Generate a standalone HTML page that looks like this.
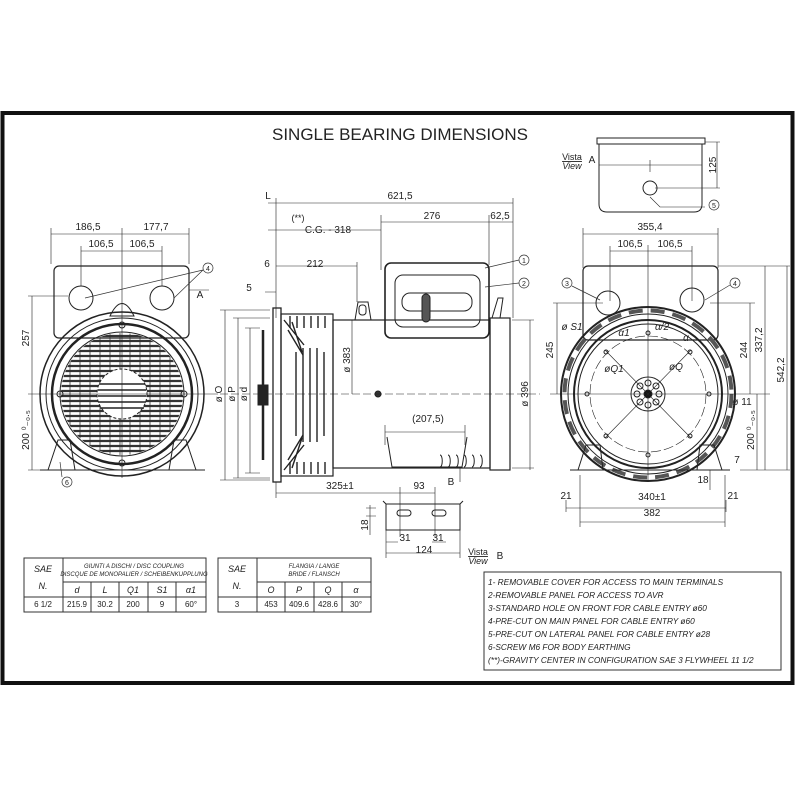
<!DOCTYPE html>
<html><head><meta charset="utf-8"><style>
html,body{margin:0;padding:0;background:#fff;}
svg{display:block;}
text{font-family:"Liberation Sans",sans-serif;fill:#222;}
.d{font-size:10px;}
.i{font-style:italic;}
</style></head><body>
<svg width="800" height="800" viewBox="0 0 800 800" xmlns="http://www.w3.org/2000/svg">
<defs>
<clipPath id="g"><circle cx="122" cy="394" r="61"/></clipPath>
</defs>
<rect x="2.5" y="113" width="790" height="570" fill="none" stroke="#111" stroke-width="4"/>
<text x="400" y="140" font-size="17" text-anchor="middle">SINGLE BEARING DIMENSIONS</text>

<g stroke="#222" fill="none" stroke-width="1">
<!-- LEFT FRONT VIEW -->
<rect x="54" y="266" width="135" height="72" rx="5" stroke-width="1.2"/>
<circle cx="81" cy="298" r="12"/><circle cx="162" cy="298" r="12"/>
<path d="M110,316 q12,-25 24,0 z"/>
<circle cx="122" cy="394" r="82" stroke-width="1.5"/>
<circle cx="122" cy="394" r="76"/>
<circle cx="122" cy="394" r="70" stroke-width="2.5"/>
<circle cx="122" cy="394" r="62"/>
<g clip-path="url(#g)" stroke="#333" stroke-width="2.2">
<path d="M50,336h150M50,341h150M50,346h150M50,351h150M50,356h150M50,361h150M50,366h150M50,371h150M50,376h150M50,381h150M50,386h150M50,391h150M50,396h150M50,401h150M50,406h150M50,411h150M50,416h150M50,421h150M50,426h150M50,431h150M50,436h150M50,441h150M50,446h150M50,451h150"/>
<path d="M70,330v130M80,330v130M90,330v130M100,330v130M110,330v130M120,330v130M130,330v130M140,330v130M150,330v130M160,330v130M170,330v130" stroke-width=".8"/>
</g>
<circle cx="122" cy="394" r="25" fill="#fff" stroke-dasharray="3,2"/>
<path d="M99,384h46M98,390h48M98,396h48M98,402h48M100,408h44" stroke-width="1.5"/>
<circle cx="60" cy="394" r="3"/><circle cx="184" cy="394" r="3"/><circle cx="122" cy="325" r="3"/><circle cx="122" cy="463" r="3"/>
<path d="M48,470 l10,-30 h12 l5,30 z M196,470 l-10,-30 h-12 l-5,30 z"/>
<path d="M40,470h165"/>
<path d="M51,234h138M81,251h81M122,228v250M51,228v36M189,228v36M81,246v40M162,246v40" stroke-width=".6"/>
<path d="M32,296v174M28,296h40M28,470h20M28,394h190" stroke-width=".6"/>
<path d="M189,290h20" stroke-width=".6"/>

<!-- SIDE VIEW -->
<path d="M268,203h245M276,198v120M513,198v120M268,230h113M381,215v55M381,222h132M489,215v50M276,266h81M357,262v40M265,292h11" stroke-width=".6"/>
<rect x="273" y="308" width="8" height="174" stroke-width="1.3"/>
<rect x="281" y="314" width="52" height="162" stroke-width="1.2"/>
<rect x="333" y="320" width="157" height="148" stroke-width="1.2"/>
<rect x="490" y="318" width="20" height="152" stroke-width="1.2"/>
<rect x="385" y="263" width="104" height="75" rx="6" stroke-width="1.6"/>
<rect x="395" y="275" width="85" height="52" rx="8"/>
<rect x="402" y="293" width="70" height="18" rx="8"/>
<rect x="422" y="294" width="8" height="28" rx="4" fill="#555"/>
<path d="M355,320 l3,-18 h10 l3,18"/>
<rect x="359" y="305" width="7" height="10" rx="3"/>
<path d="M492,318 l6,-20 h5 l-3,20"/>
<g stroke-width="1.4">
<path d="M290,316v12M297,316v12M304,316v12M311,316v12M318,316v12M325,316v12M290,462v12M297,462v12M304,462v12M311,462v12M318,462v12M325,462v12"/>
<path d="M296,352v84M303,348v94M310,348v94M317,348v94M324,352v84"/>
<path d="M284,320 l20,25M284,470 l20,-25M288,330 l15,25M288,460 l15,-25M292,322 l10,30M292,468 l10,-30"/>
</g>
<rect x="258" y="385" width="10" height="20" fill="#222"/>
<path d="M263,330v130" stroke-width="2.5"/>
<circle cx="378" cy="394" r="3" fill="#333"/>
<path d="M220,394h320" stroke-dasharray="8,3" stroke-width=".6"/>
<path d="M225,310v170M238,318v160M250,328v145M220,310h50M233,318h37M245,328h15M220,480h50M233,478h37M245,473h15" stroke-width=".6"/>
<path d="M352,320v74M530,320v150M512,320h22M512,468h22" stroke-width=".6"/>
<path d="M385,432h80M385,425v20M465,425v20" stroke-width=".6"/>
<path d="M387,437 l5,30 h70 l5,-30"/>
<path d="M440,455c3,0 3,12 0,12M448,455c3,0 3,12 0,12M456,455c3,0 3,12 0,12M464,455c3,0 3,12 0,12M472,455c3,0 3,12 0,12M480,455c3,0 3,12 0,12"/>
<path d="M276,493h124M400,487v50M435,487v50M400,493h35M276,482v16M460,468v14" stroke-width=".6"/>
<path d="M386,504h74v26h-74z M386,504 l-3,-3 M460,504 l3,-3"/>
<rect x="397" y="510" width="14" height="6" rx="3"/><rect x="432" y="510" width="14" height="6" rx="3"/>
<path d="M370,505v30M366,508h10M366,516h10M386,542h12M432,542h14M386,530v28M460,530v28M386,553h74" stroke-width=".6"/>

<!-- VIEW A -->
<rect x="597" y="138" width="108" height="6"/>
<path d="M599,144v60q0,8 8,8h87q8,0 8,-8v-60"/>
<path d="M599,165h103M650,160v12M705,142h15M705,188h15M717,142v46M655,188h55M650,197l10,10h45" stroke-width=".6"/>
<circle cx="650" cy="188" r="7"/>

<!-- RIGHT VIEW -->
<rect x="583" y="266" width="135" height="74" rx="5" stroke-width="1.2"/>
<circle cx="608" cy="303" r="12"/><circle cx="692" cy="300" r="12"/>
<circle cx="648" cy="394" r="87" stroke-width="2"/>
<circle cx="648" cy="394" r="80"/>
<circle cx="648" cy="394" r="83.5" stroke-width="4" stroke-dasharray="14,8" stroke="#555"/>
<circle cx="648" cy="394" r="74" stroke-width="2"/>
<circle cx="648" cy="394" r="70"/>
<circle cx="648" cy="394" r="58" stroke-dasharray="10,3" stroke-width=".6"/>
<circle cx="648" cy="394" r="17"/>
<circle cx="648" cy="394" r="4" fill="#111"/>
<circle cx="648" cy="383" r="3"/><circle cx="648" cy="405" r="3"/><circle cx="637" cy="394" r="3"/><circle cx="659" cy="394" r="3"/>
<circle cx="640" cy="386" r="3"/><circle cx="656" cy="386" r="3"/><circle cx="640" cy="402" r="3"/><circle cx="656" cy="402" r="3"/>
<circle cx="587" cy="394" r="2"/><circle cx="709" cy="394" r="2"/><circle cx="648" cy="333" r="2"/><circle cx="648" cy="455" r="2"/>
<circle cx="606" cy="352" r="2"/><circle cx="690" cy="352" r="2"/><circle cx="606" cy="436" r="2"/><circle cx="690" cy="436" r="2"/>
<path d="M578,470 l8,-25 h14 l3,25z M722,470 l-8,-25 h-14 l-3,25z M570,470h160"/>
<path d="M550,394h220M648,245v235M605,350 l86,88M691,350 l-86,88" stroke-width=".6"/>
<path d="M583,234h135M583,228v40M718,228v40M610,251h82M610,246v55M692,246v55" stroke-width=".6"/>
<path d="M557,303v91M553,303h50M750,303v91M710,303h45M765,266v204M787,266v204M718,266h72M740,470h50M757,394v76" stroke-width=".6"/>
<path d="M566,508h160M580,522h145M580,475v52M725,475v52M566,500v12M726,500v12M710,470v20" stroke-width=".6"/>
</g>

<g fill="none" stroke="#333" stroke-width=".7">
<circle cx="208" cy="268" r="5"/><circle cx="67" cy="482" r="5"/><circle cx="524" cy="260" r="5"/><circle cx="524" cy="283" r="5"/>
<circle cx="714" cy="205" r="5"/><circle cx="567" cy="283" r="5"/><circle cx="735" cy="283" r="5"/>
<path d="M203,270 L85,298M203,270 L174,298M62,477 L60,462M519,260 L485,268M519,283 L485,287M572,286 L600,300M730,285 L705,300"/>
</g>
<g font-size="7" text-anchor="middle">
<text x="208" y="271">4</text><text x="67" y="485">6</text><text x="524" y="263">1</text><text x="524" y="286">2</text>
<text x="714" y="208">5</text><text x="567" y="286">3</text><text x="735" y="286">4</text>
</g>

<g class="d" text-anchor="middle">
<text x="88" y="230">186,5</text><text x="156" y="230">177,7</text>
<text x="101" y="247">106,5</text><text x="142" y="247">106,5</text>
<text x="200" y="298">A</text>
<text transform="translate(29,338) rotate(-90)">257</text>
<text transform="translate(29,430) rotate(-90)">200 ⁰₋₀.₅</text>
<text x="268" y="199">L</text><text x="400" y="199">621,5</text>
<text x="298" y="221" font-size="9">(**)</text><text x="328" y="233">C.G. -  318</text>
<text x="432" y="219">276</text><text x="500" y="219">62,5</text>
<text x="267" y="267">6</text><text x="315" y="267">212</text><text x="249" y="291">5</text>
<text transform="translate(222,394) rotate(-90)">ø O</text>
<text transform="translate(235,394) rotate(-90)">ø P</text>
<text transform="translate(247,394) rotate(-90)">ø d</text>
<text transform="translate(350,360) rotate(-90)">ø 383</text>
<text transform="translate(528,394) rotate(-90)">ø 396</text>
<text x="428" y="422">(207,5)</text>
<text x="340" y="489">325±1</text><text x="419" y="489">93</text><text x="451" y="485">B</text>
<text transform="translate(368,525) rotate(-90)">18</text>
<text x="405" y="541">31</text><text x="438" y="541">31</text><text x="424" y="553">124</text>
<text x="478" y="555" font-size="9" text-decoration="underline">Vista</text><text x="478" y="564" font-size="9" class="i">View</text><text x="500" y="559">B</text>
<text x="572" y="160" font-size="9" text-decoration="underline">Vista</text><text x="572" y="169" font-size="9" class="i">View</text><text x="592" y="163">A</text>
<text transform="translate(716,165) rotate(-90)">125</text>
<text x="650" y="230">355,4</text><text x="630" y="247">106,5</text><text x="670" y="247">106,5</text>
<text transform="translate(553,350) rotate(-90)">245</text>
<text transform="translate(747,350) rotate(-90)">244</text>
<text transform="translate(762,340) rotate(-90)">337,2</text>
<text transform="translate(784,370) rotate(-90)">542,2</text>
<text transform="translate(754,430) rotate(-90)">200 ⁰₋₀.₅</text>
<text x="572" y="330" class="i">ø S1</text><text x="624" y="336" class="i">α1</text><text x="662" y="330" class="i">α/2</text><text x="686" y="341" class="i">α</text>
<text x="614" y="372" class="i">øQ1</text><text x="676" y="370" class="i">øQ</text><text x="742" y="405">ø 11</text>
<text x="737" y="463">7</text><text x="703" y="483">18</text>
<text x="566" y="499">21</text><text x="652" y="500">340±1</text><text x="733" y="499">21</text><text x="652" y="516">382</text>
</g>

<g fill="none" stroke="#333" stroke-width="1">
<rect x="24" y="558" width="182" height="54"/>
<path d="M63,558v54M63,582h143M24,597h182M91,582v30M119,582v30M148,582v30M176,582v30"/>
<rect x="218" y="558" width="153" height="54"/>
<path d="M257,558v54M257,582h114M218,597h153M285,582v30M314,582v30M342,582v30"/>
<rect x="484" y="572" width="297" height="98"/>
</g>
<g class="i" text-anchor="middle" font-size="9">
<text x="43" y="572">SAE</text><text x="43" y="589">N.</text>
<text x="134" y="568" font-size="6">GIUNTI A DISCHI / DISC COUPLING</text>
<text x="134" y="576" font-size="6">DISCQUE DE MONOPALIER / SCHEIBENKUPPLUNG</text>
<text x="77" y="593">d</text><text x="105" y="593">L</text><text x="133" y="593">Q1</text><text x="162" y="593">S1</text><text x="191" y="593">α1</text>
<text x="237" y="572">SAE</text><text x="237" y="589">N.</text>
<text x="314" y="568" font-size="6">FLANGIA / LANGE</text><text x="314" y="576" font-size="6">BRIDE / FLANSCH</text>
<text x="271" y="593">O</text><text x="299" y="593">P</text><text x="328" y="593">Q</text><text x="356" y="593">α</text>
</g>
<g text-anchor="middle" font-size="8">
<text x="43" y="607">6 1/2</text><text x="77" y="607">215.9</text><text x="105" y="607">30.2</text><text x="133" y="607">200</text><text x="162" y="607">9</text><text x="191" y="607">60°</text>
<text x="237" y="607">3</text><text x="271" y="607">453</text><text x="299" y="607">409.6</text><text x="328" y="607">428.6</text><text x="356" y="607">30°</text>
</g>
<g class="i" font-size="8.3">
<text x="488" y="585">1- REMOVABLE COVER  FOR ACCESS TO MAIN TERMINALS</text>
<text x="488" y="598">2-REMOVABLE PANEL FOR ACCESS TO AVR</text>
<text x="488" y="611">3-STANDARD HOLE ON FRONT FOR CABLE ENTRY ø60</text>
<text x="488" y="624">4-PRE-CUT ON MAIN PANEL FOR CABLE ENTRY ø60</text>
<text x="488" y="637">5-PRE-CUT ON LATERAL PANEL FOR CABLE ENTRY ø28</text>
<text x="488" y="650">6-SCREW M6 FOR BODY EARTHING</text>
<text x="488" y="663">(**)-GRAVITY CENTER IN CONFIGURATION SAE 3 FLYWHEEL  11 1/2</text>
</g>
</svg>
</body></html>
